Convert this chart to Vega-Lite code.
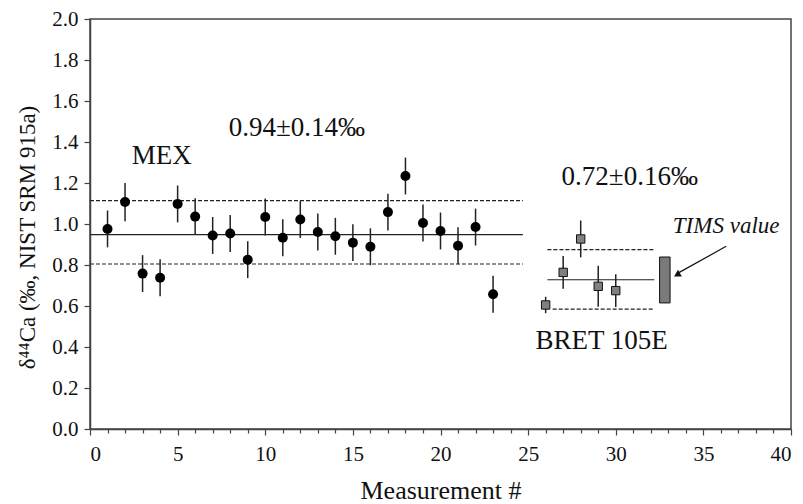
{
  "$schema": "https://vega.github.io/schema/vega-lite/v6.json",
  "width": 701,
  "height": 410,
  "autosize": "none",
  "padding": {"left": 90, "top": 19, "right": 12, "bottom": 75},
  "background": "white",
  "config": {
    "font": "Liberation Serif",
    "view": {"stroke": "#444", "strokeWidth": 1.5},
    "axis": {"grid": false, "domainColor": "#444", "domainWidth": 1.5, "tickColor": "#444", "tickWidth": 1.2, "labelColor": "#111", "titleColor": "#111", "labelFont": "Liberation Serif", "titleFont": "Liberation Serif", "labelFontSize": 21, "titleFontSize": 24, "titleFontWeight": "normal"}
  },
  "datasets": {
    "pts": [
      {"n": 1, "v": 0.976, "e": 0.09, "g": "MEX"},
      {"n": 2, "v": 1.107, "e": 0.093, "g": "MEX"},
      {"n": 3, "v": 0.758, "e": 0.09, "g": "MEX"},
      {"n": 4, "v": 0.738, "e": 0.09, "g": "MEX"},
      {"n": 5, "v": 1.098, "e": 0.09, "g": "MEX"},
      {"n": 6, "v": 1.036, "e": 0.09, "g": "MEX"},
      {"n": 7, "v": 0.944, "e": 0.09, "g": "MEX"},
      {"n": 8, "v": 0.954, "e": 0.09, "g": "MEX"},
      {"n": 9, "v": 0.826, "e": 0.09, "g": "MEX"},
      {"n": 10, "v": 1.034, "e": 0.09, "g": "MEX"},
      {"n": 11, "v": 0.933, "e": 0.09, "g": "MEX"},
      {"n": 12, "v": 1.022, "e": 0.09, "g": "MEX"},
      {"n": 13, "v": 0.961, "e": 0.09, "g": "MEX"},
      {"n": 14, "v": 0.94, "e": 0.09, "g": "MEX"},
      {"n": 15, "v": 0.909, "e": 0.09, "g": "MEX"},
      {"n": 16, "v": 0.889, "e": 0.09, "g": "MEX"},
      {"n": 17, "v": 1.058, "e": 0.09, "g": "MEX"},
      {"n": 18, "v": 1.234, "e": 0.09, "g": "MEX"},
      {"n": 19, "v": 1.005, "e": 0.09, "g": "MEX"},
      {"n": 20, "v": 0.966, "e": 0.09, "g": "MEX"},
      {"n": 21, "v": 0.894, "e": 0.09, "g": "MEX"},
      {"n": 22, "v": 0.985, "e": 0.09, "g": "MEX"},
      {"n": 23, "v": 0.657, "e": 0.09, "g": "MEX"},
      {"n": 26, "v": 0.605, "e": 0.04, "g": "BRET"},
      {"n": 27, "v": 0.764, "e": 0.08, "g": "BRET"},
      {"n": 28, "v": 0.927, "e": 0.09, "g": "BRET"},
      {"n": 29, "v": 0.696, "e": 0.1, "g": "BRET"},
      {"n": 30, "v": 0.675, "e": 0.08, "g": "BRET"}
    ],
    "lines": [
      {"x": 0, "x2": 24.7, "y": 0.948, "k": "solid"},
      {"x": 0, "x2": 24.7, "y": 1.114, "k": "dash"},
      {"x": 0, "x2": 24.7, "y": 0.805, "k": "dash"},
      {"x": 26.1, "x2": 32.2, "y": 0.728, "k": "solid"},
      {"x": 26.1, "x2": 32.2, "y": 0.875, "k": "dash"},
      {"x": 26.4, "x2": 32.2, "y": 0.585, "k": "dash"}
    ],
    "labels": [
      {"x": 4.1, "y": 1.33, "t": "MEX"},
      {"x": 11.8, "y": 1.47, "t": "0.94±0.14‰"},
      {"x": 30.8, "y": 1.23, "t": "0.72±0.16‰"},
      {"x": 29.2, "y": 0.427, "t": "BRET 105E"}
    ],
    "tims": [{"x": 32.5, "x2": 33.1, "y": 0.615, "y2": 0.839, "t": "TIMS value", "tx": 36.3, "ty": 0.99}],
    "arrow": [{"x": 36.3, "y": 0.891, "x2": 33.5, "y2": 0.758}],
    "head": [{"x": 33.55, "y": 0.755}]
  },
  "layer": [
    {
      "data": {"name": "lines"},
      "transform": [{"filter": "datum.k == 'solid'"}],
      "mark": {"type": "rule", "color": "#222", "strokeWidth": 1.1},
      "encoding": {
        "x": {"field": "x", "type": "quantitative", "scale": {"domain": [0, 40], "nice": false, "zero": false}, "axis": {"orient": "bottom", "values": [0, 5, 10, 15, 20, 25, 30, 35, 40], "title": "Measurement #", "titlePadding": 13, "labelPadding": 8, "tickSize": 6, "labelFont": "Liberation Serif", "labelFontSize": 21, "titleFont": "Liberation Serif", "titleFontSize": 26}},
        "x2": {"field": "x2"},
        "y": {"field": "y", "type": "quantitative", "scale": {"domain": [0, 2], "nice": false, "zero": false}, "axis": {"orient": "left", "values": [0, 0.2, 0.4, 0.6, 0.8, 1.0, 1.2, 1.4, 1.6, 1.8, 2.0], "format": ".1f", "title": "δ⁴⁴Ca (‰, NIST SRM 915a)", "titlePadding": 12, "titleY": 218, "labelPadding": 6, "tickSize": 6, "labelFont": "Liberation Serif", "labelFontSize": 21, "titleFont": "Liberation Serif", "titleFontSize": 23}}
      }
    },
    {
      "data": {"name": "lines"},
      "transform": [{"filter": "datum.k == 'dash'"}],
      "mark": {"type": "rule", "color": "#222", "strokeWidth": 1.1, "strokeDash": [4, 2]},
      "encoding": {
        "x": {"field": "x", "type": "quantitative", "axis": {"orient": "bottom", "values": [1,2,3,4,6,7,8,9,11,12,13,14,16,17,18,19,21,22,23,24,26,27,28,29,31,32,33,34,36,37,38,39], "labels": false, "title": null, "tickSize": 4, "domain": false, "tickColor": "#444", "tickWidth": 1.2}},
        "x2": {"field": "x2"},
        "y": {"field": "y", "type": "quantitative", "axis": null}
      }
    },
    {
      "data": {"name": "pts"},
      "mark": {"type": "rule", "color": "#222", "strokeWidth": 1.5},
      "encoding": {
        "x": {"field": "n", "type": "quantitative", "axis": null},
        "y": {"field": "lo", "type": "quantitative", "axis": null},
        "y2": {"field": "hi"}
      },
      "transform": [{"calculate": "datum.v - datum.e", "as": "lo"}, {"calculate": "datum.v + datum.e", "as": "hi"}]
    },
    {
      "data": {"name": "pts"},
      "transform": [{"filter": "datum.g == 'MEX'"}],
      "mark": {"type": "point", "shape": "circle", "filled": true, "color": "black", "size": 100, "opacity": 1},
      "encoding": {
        "x": {"field": "n", "type": "quantitative", "axis": null},
        "y": {"field": "v", "type": "quantitative", "axis": null}
      }
    },
    {
      "data": {"name": "pts"},
      "transform": [{"filter": "datum.g == 'BRET'"}],
      "mark": {"type": "point", "shape": "square", "filled": true, "fill": "#808080", "stroke": "#111", "strokeWidth": 1, "size": 70, "opacity": 1},
      "encoding": {
        "x": {"field": "n", "type": "quantitative", "axis": null},
        "y": {"field": "v", "type": "quantitative", "axis": null}
      }
    },
    {
      "data": {"name": "tims"},
      "mark": {"type": "rect", "fill": "#7a7a7a", "stroke": "#111", "strokeWidth": 1},
      "encoding": {
        "x": {"field": "x", "type": "quantitative", "axis": null},
        "x2": {"field": "x2"},
        "y": {"field": "y", "type": "quantitative", "axis": null},
        "y2": {"field": "y2"}
      }
    },
    {
      "data": {"name": "arrow"},
      "mark": {"type": "rule", "color": "#111", "strokeWidth": 1.2},
      "encoding": {
        "x": {"field": "x", "type": "quantitative", "axis": null},
        "x2": {"field": "x2"},
        "y": {"field": "y", "type": "quantitative", "axis": null},
        "y2": {"field": "y2"}
      }
    },
    {
      "data": {"name": "head"},
      "mark": {"type": "point", "shape": "triangle", "filled": true, "color": "#111", "size": 60, "angle": 240, "opacity": 1},
      "encoding": {
        "x": {"field": "x", "type": "quantitative", "axis": null},
        "y": {"field": "y", "type": "quantitative", "axis": null}
      }
    },
    {
      "data": {"name": "labels"},
      "mark": {"type": "text", "fontSize": 27, "color": "#111", "font": "Liberation Serif", "align": "center", "baseline": "middle"},
      "encoding": {
        "x": {"field": "x", "type": "quantitative", "axis": null},
        "y": {"field": "y", "type": "quantitative", "axis": null},
        "text": {"field": "t"}
      }
    },
    {
      "data": {"name": "tims"},
      "mark": {"type": "text", "fontSize": 23, "fontStyle": "italic", "color": "#111", "font": "Liberation Serif", "align": "center", "baseline": "middle"},
      "encoding": {
        "x": {"field": "tx", "type": "quantitative", "axis": null},
        "y": {"field": "ty", "type": "quantitative", "axis": null},
        "text": {"field": "t"}
      }
    }
  ],
  "resolve": {"axis": {"x": "independent", "y": "independent"}}
}
